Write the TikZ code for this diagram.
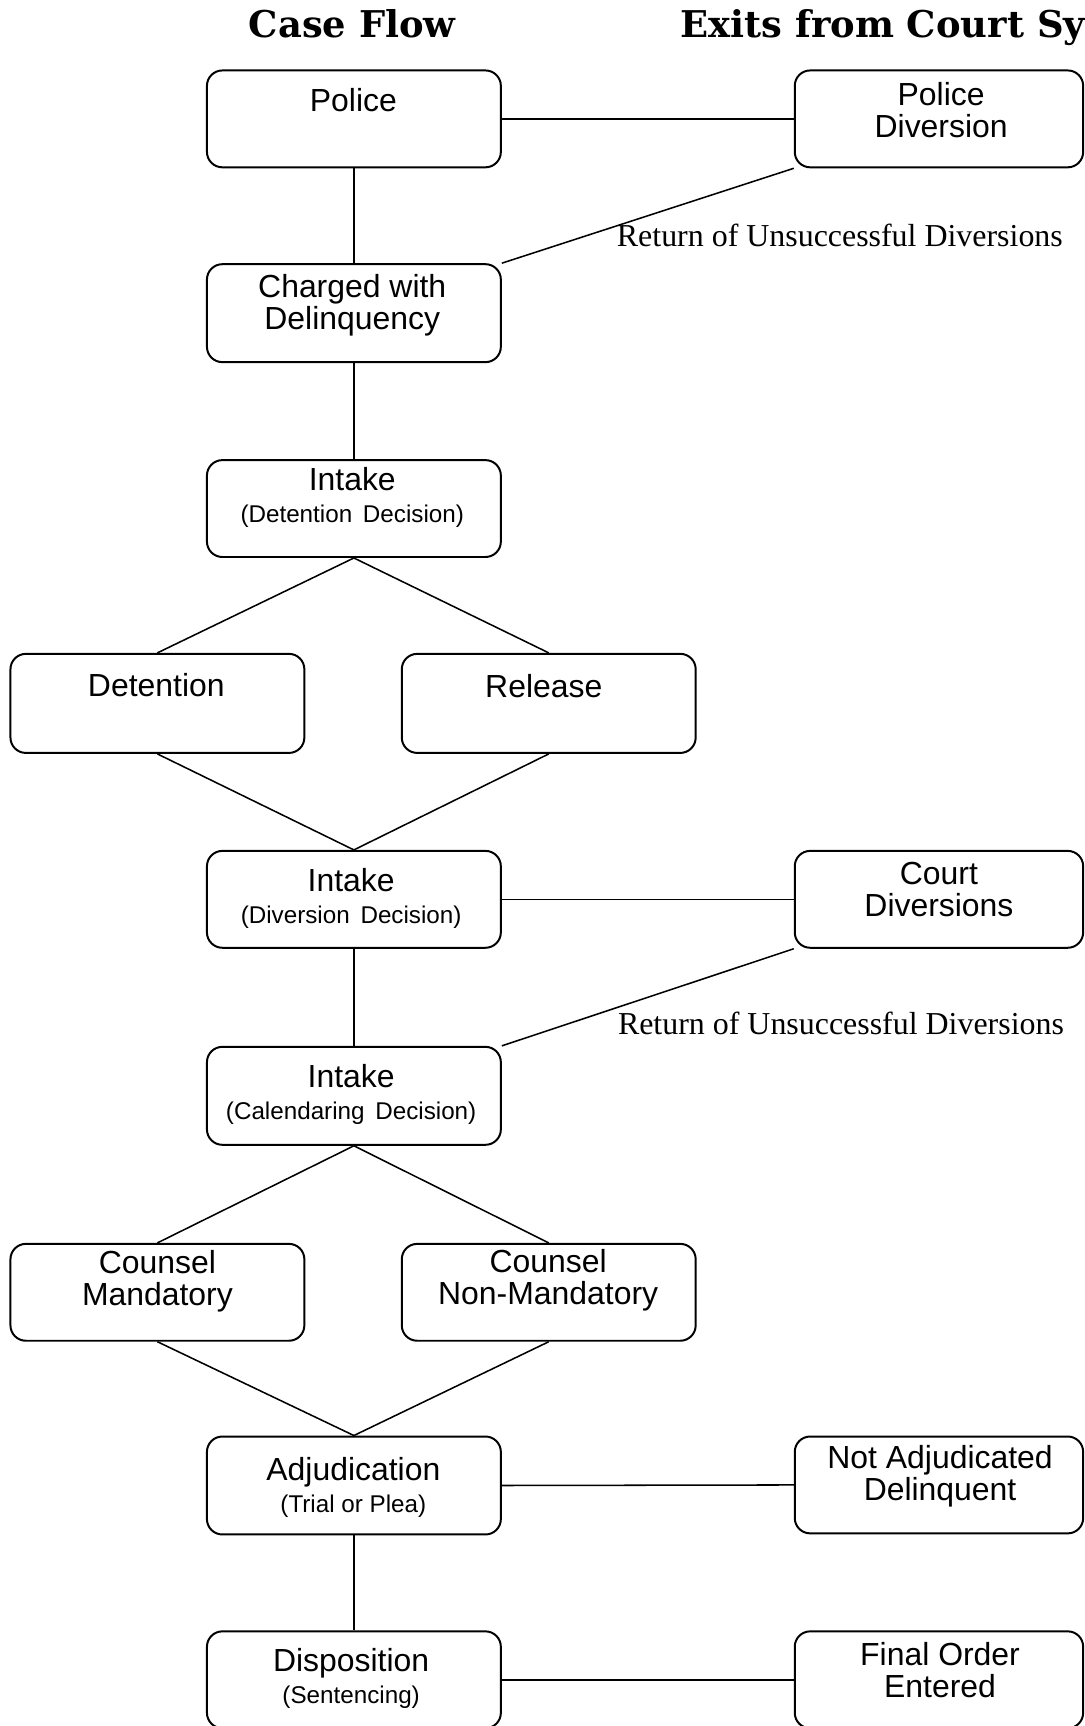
\documentclass[tikz,border=0pt]{standalone}
\usepackage{fontspec}
\setmainfont{Liberation Serif}
\setsansfont{Liberation Sans}
\newfontfamily\titlefont{DejaVu Serif}
\begin{document}
\begin{tikzpicture}[x=1pt,y=-1pt,
  box/.style={draw, line width=1.8pt, rounded corners=14pt, inner sep=0pt},
  lbox/.style={box, minimum width=267pt, minimum height=88pt},
  rbox/.style={box, minimum width=262pt, minimum height=88pt},
  txt/.style={font=\sffamily\fontsize{29}{29}\selectfont, align=center, inner sep=0pt},
  conn/.style={line width=1.4pt},
  ttl/.style={font=\titlefont\bfseries\fontsize{33.5}{36}\selectfont, inner sep=0pt},
  ret/.style={font=\rmfamily\fontsize{29}{30}\selectfont, inner sep=0pt}
]
\newcommand{\smalltx}[1]{{\fontsize{22}{27}\selectfont #1}}
\useasboundingbox (0,0) rectangle (985,1568);
\clip (0,0) rectangle (985,1568);

% titles
\node[ttl, anchor=base] (t1) at (320,34) {Case Flow};
\node[ttl, anchor=base west] (t2) at (618,34) {Exits from Court System};

% boxes
\node[lbox] (police) at (321.5,108) {};
\node[rbox] (pdiv) at (853,108) {};
\node[lbox, minimum height=89pt] (charged) at (321.5,284.5) {};
\node[lbox] (intake1) at (321.5,462) {};
\node[lbox, minimum height=90pt] (det) at (143,639) {};
\node[lbox, minimum height=90pt] (rel) at (498.5,639) {};
\node[lbox] (intake2) at (321.5,817) {};
\node[rbox] (cdiv) at (853,817) {};
\node[lbox, minimum height=89pt] (intake3) at (321.5,995.5) {};
\node[lbox] (cman) at (143,1174) {};
\node[lbox] (cnon) at (498.5,1174) {};
\node[lbox, minimum height=89pt] (adj) at (321.5,1349.5) {};
\node[rbox] (notadj) at (853,1349) {};
\node[lbox] (disp) at (321.5,1526) {};
\node[rbox] (final) at (853,1526) {};

% texts
\node[txt] (policeT) at (321,91) {Police};
\node[txt] (pdivT) at (855,100) {Police\\Diversion};
\node[txt] (chargedT) at (320,277) {Charged with\\Delinquency};
\node[txt] (intake1T) at (320,452) {Intake\\\smalltx{(Detention\, Decision)}};
\node[txt] (detT) at (142,622) {Detention};
\node[txt] (relT) at (494,623) {Release};
\node[txt] (intake2T) at (319,816) {Intake\\\smalltx{(Diversion\, Decision)}};
\node[txt] (cdivT) at (853,808) {Court\\Diversions};
\node[txt] (intake3T) at (319,994) {Intake\\\smalltx{(Calendaring\, Decision)}};
\node[txt] (cmanT) at (143,1164) {Counsel\\Mandatory};
\node[txt] (cnonT) at (498,1163) {Counsel\\Non-Mandatory};
\node[txt] (adjT) at (321,1351) {Adjudication\\\smalltx{(Trial or Plea)}};
\node[txt] (notadjT) at (854,1341) {Not Adjudicated\\Delinquent};
\node[txt] (dispT) at (319,1525) {Disposition\\\smalltx{(Sentencing)}};
\node[txt] (finalT) at (854,1517) {Final Order\\Entered};

\node[ret] (ret1) at (763,214) {Return of Unsuccessful Diversions};
\node[ret] (ret2) at (764,930) {Return of Unsuccessful Diversions};

% connectors
\draw[conn] (police.south) -- (charged.north);
\draw[conn] (police.east) -- (pdiv.west);
\draw[conn] (pdiv.south west) -- (charged.north east);
\draw[conn] (charged.south) -- (intake1.north);
\draw[conn] (intake1.south) -- (det.north);
\draw[conn] (intake1.south) -- (rel.north);
\draw[conn] (det.south) -- (intake2.north);
\draw[conn] (rel.south) -- (intake2.north);
\draw[conn] (intake2.east) -- (cdiv.west);
\draw[conn] (cdiv.south west) -- (intake3.north east);
\draw[conn] (intake2.south) -- (intake3.north);
\draw[conn] (intake3.south) -- (cman.north);
\draw[conn] (intake3.south) -- (cnon.north);
\draw[conn] (cman.south) -- (adj.north);
\draw[conn] (cnon.south) -- (adj.north);
\draw[conn] (adj.east) -- (notadj.west);
\draw[conn] (adj.south) -- (disp.north);
\draw[conn] (disp.east) -- (final.west);
\end{tikzpicture}
\end{document}
